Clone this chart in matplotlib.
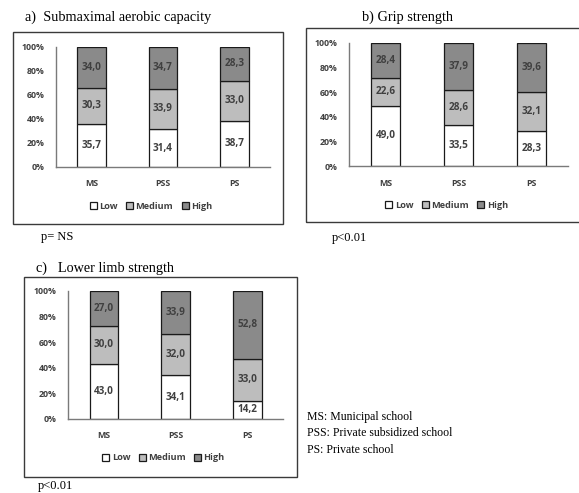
import matplotlib.pyplot as plt
from matplotlib.patches import Rectangle

W, H = 579, 493

schools = ['MS', 'PSS', 'PS']
levels = ['Low', 'Medium', 'High']
level_colors = ['#ffffff', '#bdbdbd', '#8a8a8a']

aerobic_low = [35.7, 31.4, 38.7]
aerobic_medium = [30.3, 33.9, 33.0]
aerobic_high = [34.0, 34.7, 28.3]

grip_low = [49.0, 33.5, 28.3]
grip_medium = [22.6, 28.6, 32.1]
grip_high = [28.4, 37.9, 39.6]

limb_low = [43.0, 34.1, 14.2]
limb_medium = [30.0, 32.0, 33.0]
limb_high = [27.0, 33.9, 52.8]

notes = ['MS: Municipal school', 'PSS: Private subsidized school', 'PS: Private school']

fig = plt.figure(figsize=(W / 100, H / 100), dpi=100)
fig.patch.set_facecolor('white')

SERIF = 'Liberation Serif'
SANS = 'Open Sans'
TXT = '#404040'


def px_rect(x0, y0, x1, y1):
    return [x0 / W, 1 - y1 / H, (x1 - x0) / W, (y1 - y0) / H]


def fig_text(x, y, s, **kw):
    fig.text(x / W, 1 - y / H, s, **kw)


def frame(x0, y0, x1, y1):
    fig.add_artist(Rectangle((x0 / W, 1 - y1 / H), (x1 - x0) / W, (y1 - y0) / H,
                             transform=fig.transFigure, fill=False,
                             edgecolor='#3a3a3a', linewidth=1.0))


def stacked(rect, low, medium, high, legend_y):
    ax = fig.add_axes(px_rect(*rect))
    x = range(len(schools))
    bottom = [0.0] * len(schools)
    handles = []
    for name, vals, col in zip(levels, [low, medium, high], level_colors):
        bars = ax.bar(x, vals, width=0.4, bottom=bottom, color=col,
                      edgecolor='#1a1a1a', linewidth=0.9, label=name)
        handles.append(bars)
        for xi, b, v in zip(x, bottom, vals):
            ax.text(xi, b + v / 2, f'{v:.1f}'.replace('.', ','), ha='center',
                    va='center', fontsize=7.2, fontweight='bold', color=TXT,
                    family=SANS)
        bottom = [b + v for b, v in zip(bottom, vals)]
    ax.set_xlim(-0.5, 2.5)
    ax.set_ylim(0, 100)
    ax.set_yticks([0, 20, 40, 60, 80, 100])
    ax.set_yticklabels([f'{t}%' for t in range(0, 101, 20)])
    ax.set_xticks(list(x))
    ax.set_xticklabels(schools)
    for lab in ax.get_xticklabels() + ax.get_yticklabels():
        lab.set_fontweight('bold')
        lab.set_family(SANS)
        lab.set_fontsize(6.3)
        lab.set_color(TXT)
    ax.tick_params(axis='y', length=0, pad=8)
    ax.tick_params(axis='x', length=0, pad=9)
    for s in ['top', 'right']:
        ax.spines[s].set_visible(False)
    for s in ['left', 'bottom']:
        ax.spines[s].set_color('#7a7a7a')
        ax.spines[s].set_linewidth(1.0)
    cx = (rect[0] + rect[2]) / 2 - 12
    fig.legend(handles=handles, labels=levels, loc='center',
               bbox_to_anchor=(cx / W, 1 - legend_y / H), ncol=3,
               frameon=False, handlelength=0.8, handleheight=0.8,
               handletextpad=0.25, columnspacing=0.9,
               prop={'family': SANS, 'weight': 'bold', 'size': 6.6},
               labelcolor=TXT)
    return ax


# a) submaximal aerobic capacity
frame(13, 32, 283, 224)
fig_text(25, 17, 'a)  Submaximal aerobic capacity', family=SERIF, fontsize=10.3,
         va='center', ha='left')
stacked((56, 47, 270, 167), aerobic_low, aerobic_medium, aerobic_high, 206)
fig_text(41, 237, 'p= NS', family=SERIF, fontsize=9, va='center')

# b) grip strength
frame(306, 28, 582, 222)
fig_text(362, 17, 'b) Grip strength', family=SERIF, fontsize=10.3,
         va='center', ha='left')
stacked((349, 43, 568, 166), grip_low, grip_medium, grip_high, 205)
fig_text(332, 238, 'p<0.01', family=SERIF, fontsize=9, va='center')

# c) lower limb strength
frame(24, 277, 297, 477)
fig_text(36, 268, 'c)   Lower limb strength', family=SERIF, fontsize=10.3,
         va='center', ha='left')
stacked((68, 291, 283, 419), limb_low, limb_medium, limb_high, 458)
fig_text(38, 486, 'p<0.01', family=SERIF, fontsize=9, va='center')

for i, line in enumerate(notes):
    fig_text(307, 417 + 16.5 * i, line, family=SERIF, fontsize=8.5, va='center')

fig.savefig('out.png', dpi=100)
